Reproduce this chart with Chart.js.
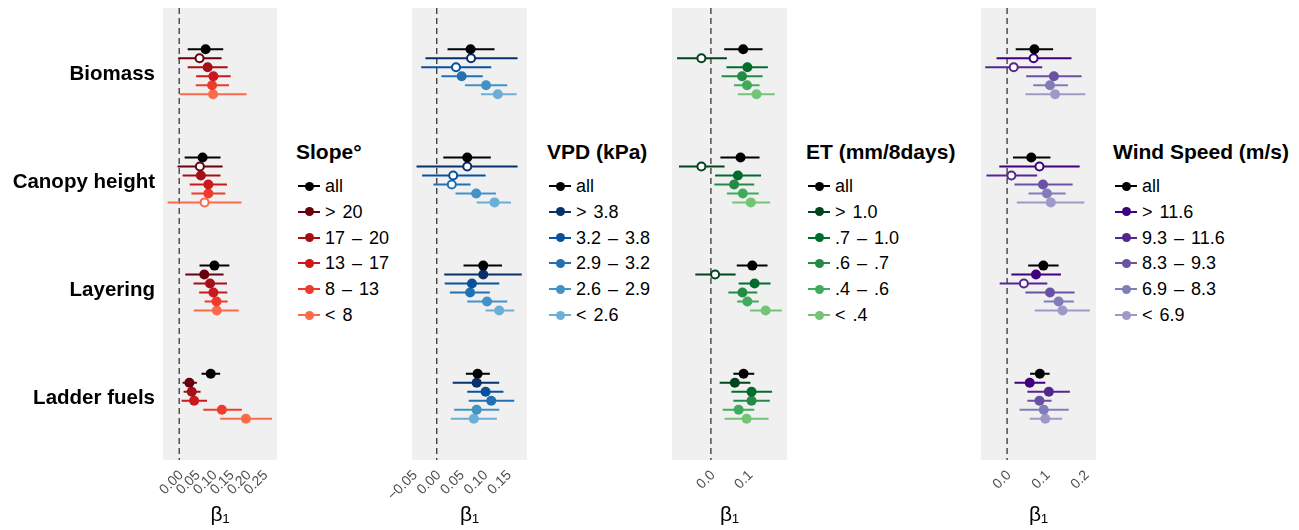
<!DOCTYPE html>
<html>
<head>
<meta charset="utf-8">
<script src="https://cdn.jsdelivr.net/npm/chart.js@4/dist/chart.umd.min.js"></script>
<style>
  body { margin: 0; background: #fff; width: 1299px; height: 530px; position: relative; overflow: hidden;
         font-family: 'Liberation Sans', Arial, sans-serif; color: #000; }
  canvas { position: absolute; top: 0; }
  .legend { position: absolute; top: 0; }
  .legend-title { position: absolute; top: 140px; left: 0; font-weight: bold; font-size: 21px; line-height: 24px; white-space: nowrap; }
  .legend-item { position: absolute; left: 0; height: 26px; line-height: 26px; font-size: 18px; white-space: nowrap; }
  .key { position: absolute; left: 2px; top: 12px; width: 22px; height: 2px; }
  .key span { position: absolute; left: 6.5px; top: -3.5px; width: 9px; height: 9px; border-radius: 50%; }
  .legend-item .txt { position: absolute; left: 29px; top: 0; word-spacing: 2px; }
</style>
</head>
<body>
<script>
const groups = ['Biomass', 'Canopy height', 'Layering', 'Ladder fuels'];

// Slope
const slopeLabels = ['all', '> 20', '17 – 20', '13 – 17', '8 – 13', '< 8'];
const slopeColors = ['#000000', '#67000d', '#a50f15', '#cb181d', '#ef3b2c', '#fb6a4a'];
const slopeEst = [
  [0.078, 0.060, 0.084, 0.101, 0.097, 0.100],
  [0.069, 0.061, 0.064, 0.086, 0.086, 0.075],
  [0.104, 0.074, 0.091, 0.101, 0.110, 0.111],
  [0.093, 0.030, 0.037, 0.044, 0.126, 0.197]
];
const slopeLow = [
  [0.025, -0.003, 0.025, 0.050, 0.049, 0.002],
  [0.016, -0.005, 0.010, 0.031, 0.036, -0.034],
  [0.060, 0.018, 0.042, 0.059, 0.075, 0.043],
  [0.066, 0.010, 0.013, 0.007, 0.071, 0.121]
];
const slopeHigh = [
  [0.130, 0.125, 0.143, 0.152, 0.147, 0.199],
  [0.122, 0.128, 0.122, 0.141, 0.136, 0.184],
  [0.148, 0.131, 0.141, 0.142, 0.143, 0.176],
  [0.121, 0.052, 0.063, 0.082, 0.185, 0.274]
];
const slopeTicks = [0, 0.05, 0.10, 0.15, 0.20, 0.25];
const slopeTickLabels = ['0.00', '0.05', '0.10', '0.15', '0.20', '0.25'];

// VPD
const vpdLabels = ['all', '> 3.8', '3.2 – 3.8', '2.9 – 3.2', '2.6 – 2.9', '< 2.6'];
const vpdColors = ['#000000', '#08306b', '#08519c', '#2171b5', '#4292c6', '#6baed6'];
const vpdEst = [
  [0.072, 0.073, 0.041, 0.053, 0.105, 0.130],
  [0.065, 0.065, 0.035, 0.032, 0.084, 0.123],
  [0.099, 0.099, 0.075, 0.071, 0.107, 0.133],
  [0.087, 0.085, 0.104, 0.116, 0.085, 0.079]
];
const vpdLow = [
  [0.023, -0.024, -0.033, 0.010, 0.060, 0.094],
  [0.014, -0.043, -0.031, -0.007, 0.040, 0.085],
  [0.057, 0.016, 0.017, 0.028, 0.065, 0.104],
  [0.062, 0.034, 0.065, 0.068, 0.037, 0.030]
];
const vpdHigh = [
  [0.123, 0.172, 0.116, 0.098, 0.150, 0.170],
  [0.115, 0.172, 0.104, 0.072, 0.126, 0.158],
  [0.139, 0.181, 0.133, 0.113, 0.150, 0.165],
  [0.113, 0.133, 0.142, 0.165, 0.133, 0.128]
];
const vpdTicks = [-0.05, 0, 0.05, 0.10, 0.15];
const vpdTickLabels = ['−0.05', '0.00', '0.05', '0.10', '0.15'];

// ET
const etLabels = ['all', '> 1.0', '.7 – 1.0', '.6 – .7', '.4 – .6', '< .4'];
const etColors = ['#000000', '#00441b', '#006d2c', '#238b45', '#41ab5d', '#74c476'];
const etEst = [
  [0.085, -0.025, 0.096, 0.082, 0.095, 0.120],
  [0.078, -0.025, 0.071, 0.061, 0.084, 0.105],
  [0.109, 0.011, 0.115, 0.083, 0.096, 0.144],
  [0.086, 0.063, 0.107, 0.107, 0.073, 0.094]
];
const etLow = [
  [0.035, -0.089, 0.041, 0.028, 0.061, 0.071],
  [0.025, -0.084, 0.011, 0.009, 0.042, 0.056],
  [0.068, -0.041, 0.073, 0.046, 0.069, 0.103],
  [0.059, 0.023, 0.054, 0.059, 0.031, 0.036]
];
const etHigh = [
  [0.136, 0.042, 0.150, 0.136, 0.128, 0.168],
  [0.128, 0.036, 0.132, 0.114, 0.126, 0.156],
  [0.149, 0.065, 0.157, 0.122, 0.126, 0.187],
  [0.114, 0.104, 0.161, 0.155, 0.114, 0.152]
];
const etTicks = [0, 0.1];
const etTickLabels = ['0.0', '0.1'];

// Wind speed
const windLabels = ['all', '> 11.6', '9.3 – 11.6', '8.3 – 9.3', '6.9 – 8.3', '< 6.9'];
const windColors = ['#000000', '#3f007d', '#54278f', '#6a51a3', '#807dba', '#9e9ac8'];
const windEst = [
  [0.070, 0.068, 0.017, 0.120, 0.110, 0.123],
  [0.062, 0.083, 0.011, 0.092, 0.102, 0.112],
  [0.093, 0.074, 0.043, 0.110, 0.132, 0.142],
  [0.084, 0.058, 0.107, 0.083, 0.094, 0.098]
];
const windLow = [
  [0.022, -0.027, -0.056, 0.049, 0.067, 0.047],
  [0.015, -0.020, -0.053, 0.019, 0.055, 0.025],
  [0.054, 0.011, -0.019, 0.047, 0.094, 0.071],
  [0.059, 0.019, 0.052, 0.052, 0.032, 0.058]
];
const windHigh = [
  [0.118, 0.165, 0.090, 0.191, 0.156, 0.201],
  [0.111, 0.186, 0.077, 0.168, 0.150, 0.198],
  [0.132, 0.138, 0.103, 0.173, 0.171, 0.212],
  [0.109, 0.098, 0.161, 0.114, 0.158, 0.141]
];
const windTicks = [0, 0.1, 0.2];
const windTickLabels = ['0.0', '0.1', '0.2'];

Chart.defaults.font.family = "'Liberation Sans', Arial, sans-serif";
Chart.defaults.animation = false;

const rowStep = 0.0831;
const yMin = -0.59, yMax = 3.59;

const panelBg = {
  id: 'panelBg',
  beforeDraw(chart) {
    const { ctx, chartArea: a } = chart;
    ctx.save();
    ctx.fillStyle = '#f0f0f0';
    ctx.fillRect(a.left, a.top, a.right - a.left, a.bottom - a.top);
    ctx.restore();
  }
};

function buildPanel(cfg) {
  const { title, labels, colors, est, low, high, ticks, tickLabels, xMin, xMax,
          plotLeft, plotWidth, yWidth, legendLeft, showGroups } = cfg;
  const canvas = document.createElement('canvas');
  canvas.width = yWidth + plotWidth + 10;
  canvas.height = 530;
  canvas.style.left = (plotLeft - yWidth) + 'px';
  document.body.appendChild(canvas);

  const datasets = [];
  datasets.push({
    data: [{ x: 0, y: yMin }, { x: 0, y: yMax }],
    showLine: true, pointRadius: 0, borderColor: '#444', borderWidth: 1.4,
    borderDash: [6, 4], order: 3
  });
  labels.forEach((lab, j) => {
    const bars = [];
    const pts = [];
    groups.forEach((g, gi) => {
      const y = gi + (j - 2.5) * rowStep;
      bars.push({ x: low[gi][j], y }, { x: high[gi][j], y }, { x: null, y: null });
      pts.push({ x: est[gi][j], y, open: low[gi][j] < 0 && high[gi][j] > 0 });
    });
    datasets.push({
      data: bars, showLine: true, spanGaps: false, pointRadius: 0,
      borderColor: colors[j], borderWidth: 2, order: 2
    });
    datasets.push({
      data: pts, showLine: false, order: 1,
      pointRadius: pts.map(p => p.open ? 4 : 5),
      pointBorderWidth: pts.map(p => p.open ? 2 : 0),
      pointBackgroundColor: pts.map(p => p.open ? '#ffffff' : colors[j]),
      pointBorderColor: colors[j]
    });
  });

  new Chart(canvas.getContext('2d'), {
    type: 'scatter',
    data: { datasets },
    plugins: [panelBg],
    options: {
      responsive: false,
      layout: { padding: { top: 8, right: 10, left: 0, bottom: 0 } },
      plugins: { legend: { display: false }, tooltip: { enabled: false } },
      scales: {
        x: {
          type: 'linear', min: xMin, max: xMax,
          afterBuildTicks: s => { s.ticks = ticks.map(v => ({ value: v })); },
          ticks: {
            callback: (v, i) => tickLabels[i],
            maxRotation: 45, minRotation: 45, autoSkip: false,
            font: { size: 14 }, color: '#4d4d4d', padding: 7, labelOffset: 2
          },
          grid: { display: false, drawTicks: false },
          border: { display: false },
          title: { display: true, text: 'β₁', font: { size: 21 }, color: '#000', padding: { top: 0, bottom: 2 } },
          afterFit: s => { s.height = 70; s.paddingLeft = 0; s.paddingRight = 0; }
        },
        y: {
          type: 'linear', reverse: true, min: yMin, max: yMax,
          afterBuildTicks: s => { s.ticks = groups.map((g, i) => ({ value: i })); },
          ticks: {
            display: showGroups, autoSkip: false,
            callback: (v, i) => groups[i],
            font: { size: 20.5, weight: 'bold' }, color: '#000', padding: 8, labelOffset: 2.5
          },
          grid: { display: false, drawTicks: false },
          border: { display: false },
          afterFit: s => { s.width = yWidth; s.paddingTop = 0; s.paddingBottom = 0; }
        }
      }
    }
  });

  // legend
  const lg = document.createElement('div');
  lg.className = 'legend';
  lg.style.left = legendLeft + 'px';
  const t = document.createElement('div');
  t.className = 'legend-title';
  t.textContent = title;
  lg.appendChild(t);
  labels.forEach((lab, j) => {
    const it = document.createElement('div');
    it.className = 'legend-item';
    it.style.top = (173 + j * 25.8) + 'px';
    it.innerHTML = `<div class="key" style="background:${colors[j]}"><span style="background:${colors[j]}"></span></div><div class="txt"></div>`;
    it.querySelector('.txt').textContent = lab;
    lg.appendChild(it);
  });
  document.body.appendChild(lg);
}

buildPanel({ title: 'Slope°', labels: slopeLabels, colors: slopeColors, est: slopeEst, low: slopeLow, high: slopeHigh,
  ticks: slopeTicks, tickLabels: slopeTickLabels, xMin: -0.0479, xMax: 0.2888,
  plotLeft: 163, plotWidth: 114, yWidth: 163, legendLeft: 296, showGroups: true });
buildPanel({ title: 'VPD (kPa)', labels: vpdLabels, colors: vpdColors, est: vpdEst, low: vpdLow, high: vpdHigh,
  ticks: vpdTicks, tickLabels: vpdTickLabels, xMin: -0.0526, xMax: 0.1921,
  plotLeft: 412, plotWidth: 115, yWidth: 40, legendLeft: 547, showGroups: false });
buildPanel({ title: 'ET (mm/8days)', labels: etLabels, colors: etColors, est: etEst, low: etLow, high: etHigh,
  ticks: etTicks, tickLabels: etTickLabels, xMin: -0.1024, xMax: 0.2003,
  plotLeft: 672, plotWidth: 115, yWidth: 40, legendLeft: 806, showGroups: false });
buildPanel({ title: 'Wind Speed (m/s)', labels: windLabels, colors: windColors, est: windEst, low: windLow, high: windHigh,
  ticks: windTicks, tickLabels: windTickLabels, xMin: -0.0669, xMax: 0.2279,
  plotLeft: 981, plotWidth: 115, yWidth: 40, legendLeft: 1113, showGroups: false });
</script>
</body>
</html>
